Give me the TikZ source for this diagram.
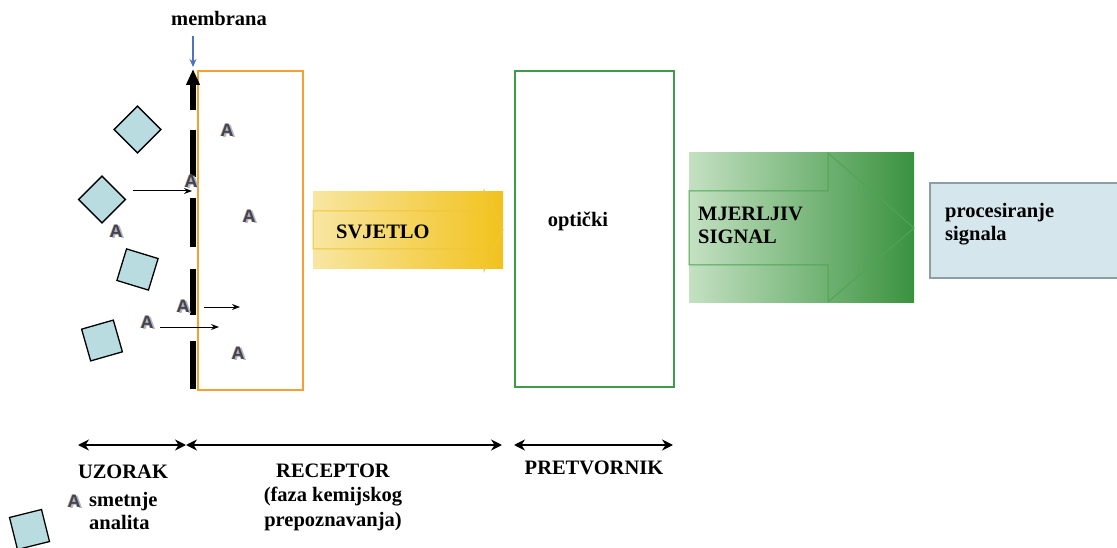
\documentclass[tikz,border=0pt]{standalone}
\usepackage{fontspec}
\setmainfont{Liberation Serif}
\newfontfamily\asans{Liberation Sans}
\usetikzlibrary{arrows.meta}
\definecolor{sqfill}{HTML}{B8DCE0}
\definecolor{orangeR}{HTML}{F5A030}
\definecolor{greenR}{HTML}{3E9B4A}
\definecolor{blueArr}{HTML}{5070C0}
\definecolor{yelL}{HTML}{F8E6A2}
\definecolor{yelR}{HTML}{F2C21C}
\definecolor{yelLine}{HTML}{F0C63A}
\definecolor{grnL}{HTML}{C4E1C2}
\definecolor{grnR}{HTML}{3A923F}
\definecolor{grnLine}{HTML}{4FA556}
\definecolor{procFill}{HTML}{D5E6EC}
\definecolor{procLine}{HTML}{8C9DA3}
\definecolor{afront}{HTML}{3A4560}
\definecolor{ashadow}{HTML}{B4B4B8}
\definecolor{aedge}{HTML}{D89A5A}
\newcommand{\analyteA}{\makebox[0pt][l]{\hspace{2pt}\raisebox{-0.8pt}{\textcolor{ashadow}{A}}}\makebox[0pt][l]{\hspace{-0.7pt}\textcolor{aedge}{A}}\textcolor{afront}{A}}
\tikzset{
  lbl/.style={font=\fontsize{20.5}{23}\selectfont\bfseries, inner sep=0pt},
  sq/.style={shape=rectangle, draw=black, line width=1.3pt, fill=sqfill, minimum size=33pt, inner sep=0pt},
  analyte/.style={font=\asans\fontsize{18}{18}\selectfont\bfseries, inner sep=0pt},
  thinarr/.style={-{Stealth[length=8pt,width=6pt]}, line width=1pt},
  spanarr/.style={{Stealth[length=11pt,width=11pt]}-{Stealth[length=11pt,width=11pt]}, line width=1.8pt},
  memseg/.style={line width=6.5pt, black},
}
\begin{document}
\begin{tikzpicture}[x=1pt,y=-1pt]
\useasboundingbox (0,0) rectangle (1117,548);
\fill[white] (0,0) rectangle (1117,548);

% membrane label and pointer
\node[lbl] (memlbl) at (219,18) {membrana};
\coordinate (memtop) at (193,67);
\coordinate (memptr) at (193,36);
\draw[blueArr, line width=1.2pt, -{Stealth[length=8pt,width=7pt]}] (memptr) -- (memtop);

% receptor (orange) box
\node[draw=orangeR, line width=1.6pt, minimum width=105pt, minimum height=319pt, inner sep=0pt, anchor=north west] (receptor) at (197,70) {};

% membrane
\draw[memseg, -{Triangle[length=16pt,width=13pt]}] (193,110) -- (193,69);
\draw[memseg] (193,130) -- (193,177);
\draw[memseg] (193,198) -- (193,247);
\draw[memseg] (193,269) -- (193,315);
\draw[memseg] (193,341) -- (193,389);

% sample squares
\node[sq, rotate=45] (s1) at (137.5,129.5) {};
\node[sq, rotate=45] (s2) at (102,199.5) {};
\node[sq, rotate=-17] (s3) at (137.5,269.5) {};
\node[sq, rotate=16] (s4) at (102,340.5) {};
\node[sq, rotate=14] (s5) at (29.5,529.5) {};

% analytes
\node[analyte] (a1) at (227,131) {\analyteA};
\node[analyte] (a2) at (191,182) {\analyteA};
\node[analyte] (a3) at (249,217) {\analyteA};
\node[analyte] (a4) at (116,232) {\analyteA};
\node[analyte] (a5) at (183,307) {\analyteA};
\node[analyte] (a6) at (147,323) {\analyteA};
\node[analyte] (a7) at (238,354) {\analyteA};
\node[analyte] (a8) at (74,502) {\analyteA};

% small diffusion arrows
\coordinate (d1s) at (133,191); \coordinate (d1e) at (192,191);
\coordinate (d2s) at (204,307); \coordinate (d2e) at (240,307);
\coordinate (d3s) at (160,327); \coordinate (d3e) at (219,327);
\draw[thinarr] (d1s) -- (d1e);
\draw[thinarr] (d2s) -- (d2e);
\draw[thinarr] (d3s) -- (d3e);

% SVJETLO block arrow
\shade[left color=yelL, right color=yelR] (313,192) rectangle (503,269);
\draw[yelLine, line width=1pt] (313,211) -- (484,211) -- (484,190) -- (503,230) -- (484,271) -- (484,249) -- (313,249) -- cycle;
\node[lbl, anchor=west] (svjetlo) at (336,232) {SVJETLO};

% transducer (green) box
\node[draw=greenR, line width=1.6pt, minimum width=159pt, minimum height=316pt, inner sep=0pt, anchor=north west] (transducer) at (514,70) {};
\node[lbl] (opticki) at (578,221) {optički};

% MJERLJIV SIGNAL block arrow
\shade[left color=grnL, right color=grnR] (689,153) rectangle (914,302);
\draw[grnLine, line width=1pt] (689,191) -- (828,191) -- (828,153) -- (914,228) -- (828,302) -- (828,265) -- (689,265) -- cycle;
\node[lbl, anchor=west, align=left] (signal) at (698,225) {MJERLJIV\\SIGNAL};

% processing box
\node[draw=procLine, fill=procFill, line width=1.6pt, minimum width=200pt, minimum height=95pt, inner sep=0pt, anchor=north west] (proc) at (929,182) {};
\node[lbl, anchor=west, align=left] (proctxt) at (945,224) {procesiranje\\signala};

% span arrows
\coordinate (sp1) at (78,445);
\coordinate (sp2) at (186,445);
\coordinate (sp3) at (502,445);
\coordinate (sp4) at (514,445);
\coordinate (sp5) at (673,445);
\draw[spanarr] (sp1) -- (sp2);
\draw[spanarr] (sp2) -- (sp3);
\draw[spanarr] (sp4) -- (sp5);

% bottom labels
\node[lbl] (uzorak) at (123,472) {UZORAK};
\node[lbl, align=center, font=\fontsize{20.5}{24.5}\selectfont\bfseries] (receptorlbl) at (333,497) {RECEPTOR\\(faza kemijskog\\prepoznavanja)};
\node[lbl] (pretvornik) at (594,468) {PRETVORNIK};
\node[lbl, anchor=west, align=left] (legend) at (89,510.5) {smetnje\\analita};
\end{tikzpicture}
\end{document}
